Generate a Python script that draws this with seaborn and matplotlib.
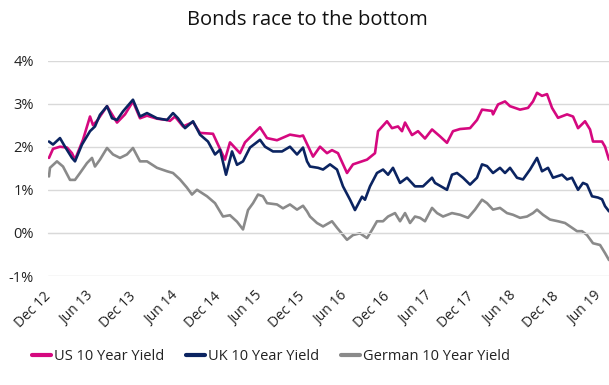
import numpy as np
import pandas as pd
import matplotlib
matplotlib.use("Agg")
import matplotlib.pyplot as plt
import seaborn as sns
from matplotlib.lines import Line2D

# months since Dec 2012
us_t = [0.00,0.57,1.56,2.55,3.26,3.69,4.82,5.82,6.24,6.81,8.23,9.65,10.78,11.91,12.91,13.90,15.32,16.74,17.16,17.87,
        19.01,20.43,21.42,23.26,24.96,25.67,27.09,27.80,29.93,30.92,32.34,34.18,35.60,36.03,37.45,38.44,39.43,40.14,
        40.99,42.27,43.12,45.11,46.24,46.67,47.94,48.65,49.50,50.07,50.50,51.49,52.34,53.33,54.33,55.46,56.45,57.30,
        58.30,59.72,60.71,61.42,62.84,62.98,63.69,64.68,65.39,66.81,67.94,68.65,69.22,69.93,70.64,71.35,72.20,73.48,
        74.33,75.04,76.03,76.74,77.16,78.44,78.87,79.43]
us_v = [1.74,1.95,2.00,1.98,1.85,1.70,2.16,2.70,2.50,2.60,2.94,2.56,2.75,3.05,2.66,2.72,2.65,2.62,2.60,2.70,
        2.47,2.57,2.32,2.30,1.70,2.10,1.85,2.10,2.45,2.20,2.15,2.28,2.24,2.26,1.77,2.00,1.85,1.92,
        1.85,1.39,1.59,1.70,1.85,2.36,2.59,2.43,2.47,2.36,2.56,2.27,2.36,2.19,2.40,2.24,2.09,2.36,
        2.41,2.43,2.62,2.86,2.83,2.75,2.98,3.05,2.94,2.86,2.90,3.05,3.25,3.18,3.22,2.90,2.67,2.75,
        2.70,2.43,2.59,2.40,2.12,2.12,2.00,1.70]

uk_t = [0.00,0.57,1.56,2.27,3.26,3.69,4.68,5.82,6.52,7.23,8.23,8.94,9.65,10.50,11.91,12.91,13.90,15.32,16.74,17.59,
        18.30,19.29,20.43,21.42,22.55,23.55,24.26,25.11,25.96,26.67,27.52,28.51,29.93,30.64,31.77,33.05,34.18,35.18,
        36.03,36.60,37.02,38.16,38.87,39.86,40.85,41.70,42.70,43.40,44.40,44.82,45.53,46.52,47.38,48.09,48.79,49.79,
        50.78,51.91,53.05,54.33,54.75,56.45,57.16,57.87,58.72,59.72,60.71,61.42,62.13,62.98,63.97,64.68,65.39,66.38,
        67.23,68.23,69.22,69.93,70.78,71.49,72.77,73.48,74.18,75.04,75.74,76.31,77.02,77.87,78.44,78.87,79.43]
uk_v = [2.12,2.05,2.20,2.00,1.74,1.66,2.05,2.36,2.47,2.74,2.94,2.66,2.62,2.82,3.09,2.70,2.78,2.66,2.62,2.78,
        2.66,2.43,2.59,2.28,2.12,1.82,1.93,1.35,1.89,1.58,1.66,1.98,2.16,2.00,1.89,1.89,2.00,1.82,
        1.98,1.66,1.54,1.51,1.47,1.59,1.47,1.08,0.77,0.53,0.84,0.77,1.08,1.39,1.47,1.35,1.51,1.16,
        1.28,1.08,1.08,1.28,1.16,1.00,1.35,1.39,1.28,1.12,1.28,1.59,1.55,1.39,1.51,1.39,1.51,1.28,
        1.24,1.47,1.74,1.43,1.51,1.28,1.35,1.24,1.28,1.00,1.16,1.12,0.85,0.82,0.78,0.62,0.50]

de_t = [0.00,0.14,1.13,1.99,2.98,3.69,4.40,5.39,6.10,6.52,7.23,8.23,9.08,10.07,11.06,11.91,12.91,13.90,15.32,16.74,
        17.59,18.58,19.57,20.28,20.99,22.41,23.55,24.68,25.67,26.67,27.52,28.23,28.94,29.65,30.35,30.92,32.34,33.19,
        34.18,35.18,36.03,36.60,37.02,38.01,38.87,40.14,40.85,42.27,43.12,44.11,45.11,45.82,46.52,47.38,48.09,49.08,
        49.79,50.50,51.21,51.91,52.62,53.33,54.33,55.04,55.89,57.16,58.30,59.43,60.43,61.42,62.13,62.98,63.97,64.96,
        65.82,66.81,67.80,68.65,69.22,70.07,71.06,72.20,73.19,74.18,74.89,75.60,76.31,77.16,78.16,78.87,79.43]
de_v = [1.31,1.51,1.66,1.54,1.23,1.23,1.39,1.62,1.74,1.54,1.70,1.97,1.82,1.74,1.82,1.97,1.66,1.66,1.51,1.43,
        1.39,1.24,1.05,0.89,1.00,0.85,0.69,0.38,0.41,0.26,0.08,0.53,0.69,0.89,0.85,0.69,0.66,0.57,
        0.66,0.54,0.63,0.50,0.38,0.23,0.15,0.27,0.12,-0.16,-0.05,-0.01,-0.12,0.07,0.27,0.27,0.38,0.46,
        0.27,0.46,0.23,0.38,0.35,0.27,0.58,0.46,0.38,0.46,0.42,0.35,0.54,0.77,0.69,0.54,0.58,0.46,
        0.42,0.35,0.38,0.46,0.54,0.42,0.31,0.27,0.23,0.12,0.04,0.04,-0.05,-0.24,-0.28,-0.47,-0.63]

series_names = ["US 10 Year Yield", "UK 10 Year Yield", "German 10 Year Yield"]
tick_labels = ["Dec 12", "Jun 13", "Dec 13", "Jun 14", "Dec 14", "Jun 15", "Dec 15", "Jun 16",
               "Dec 16", "Jun 17", "Dec 17", "Jun 18", "Dec 18", "Jun 19"]
y_ticks = [-1, 0, 1, 2, 3, 4]

colors = ["#d5087f", "#0b2461", "#8a8a8a"]

df = pd.concat([
    pd.DataFrame({"t": us_t, "v": us_v, "s": series_names[0]}),
    pd.DataFrame({"t": uk_t, "v": uk_v, "s": series_names[1]}),
    pd.DataFrame({"t": de_t, "v": de_v, "s": series_names[2]}),
])

sns.set_style("white")
plt.rcParams["font.family"] = ["Open Sans", "DejaVu Sans"]

fig = plt.figure(figsize=(6.09, 3.85), dpi=100)
ax = fig.add_axes([48/609, 1-276/385, 561/609, (276-60.5)/385])

sns.lineplot(data=df, x="t", y="v", hue="s", palette=dict(zip(series_names, colors)),
             estimator=None, sort=False, linewidth=1.9, ax=ax, legend=False)

ax.set_xlim(-0.14, 79.43)
ax.set_ylim(-1, 4)
ax.set_yticks(y_ticks)
ax.set_yticklabels([f"{y}%" for y in y_ticks])
ax.yaxis.grid(True, color="#d9d9d9", linewidth=1)
ax.set_axisbelow(True)
for s in ["top", "right", "left"]:
    ax.spines[s].set_visible(False)
ax.spines["bottom"].set_position(("data", 0))
ax.spines["bottom"].set_color("#d9d9d9")
ax.tick_params(axis="y", length=0, pad=10, labelsize=10.5, labelcolor="#222222")

ticks = np.arange(0, 6 * len(tick_labels), 6)
ax.set_xticks(ticks)
ax.set_xticklabels(tick_labels, rotation=45, ha="right", rotation_mode="anchor")
ax.tick_params(axis="x", length=5, color="#d9d9d9", width=1, pad=39, labelsize=10,
               labelcolor="#222222")
for lab in ax.get_xticklabels():
    lab.set_va("center")
ax.set_xlabel("")
ax.set_ylabel("")

fig.suptitle("Bonds race to the bottom", x=0.505, y=0.975, fontsize=14.5, color="#111111")

handles = [Line2D([], [], color=c, lw=3) for c in colors]
fig.legend(handles, series_names, loc="center", bbox_to_anchor=(0.445, 0.073), ncol=3,
           frameon=False, fontsize=10.5, handlelength=1.3, handletextpad=0.2, columnspacing=1.5,
           labelcolor="#222222")

fig.savefig("out.png", dpi=100)
